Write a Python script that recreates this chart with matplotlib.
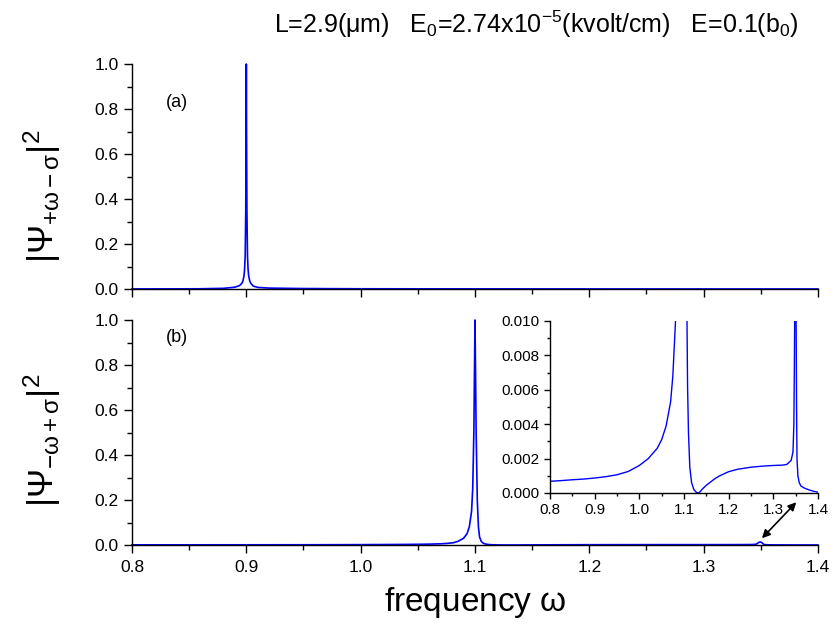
import matplotlib
matplotlib.use("Agg")
import matplotlib.pyplot as plt
from matplotlib.ticker import MultipleLocator

plt.rcParams['font.family'] = ['Liberation Sans', 'DejaVu Sans']
plt.rcParams['mathtext.fontset'] = 'custom'
plt.rcParams['mathtext.rm'] = 'Liberation Sans'
plt.rcParams['mathtext.it'] = 'Liberation Sans:italic'
plt.rcParams['mathtext.sf'] = 'Liberation Sans'

# ---- data ----
top_x = [0.80, 0.83, 0.86, 0.88, 0.89, 0.894, 0.896, 0.897, 0.898, 0.8985, 0.899,
         0.8995, 0.8998, 0.9, 0.9002, 0.9005, 0.901, 0.9015, 0.902, 0.903, 0.904,
         0.906, 0.91, 0.92, 0.95, 1.0, 1.1, 1.2, 1.3, 1.4]
top_y = [0.0003, 0.0005, 0.001, 0.003, 0.008, 0.015, 0.025, 0.035, 0.06, 0.09, 0.15,
         0.35, 0.7, 1.0, 0.7, 0.35, 0.15, 0.09, 0.06, 0.035, 0.025,
         0.013, 0.007, 0.004, 0.002, 0.001, 0.0005, 0.0003, 0.0002, 0.0001]

bot_x = [0.80, 0.825, 0.85, 0.875, 0.90, 0.925, 0.95, 0.975, 1.00, 1.02, 1.04, 1.05,
         1.06, 1.07, 1.075, 1.081,
         1.085, 1.09, 1.093, 1.095, 1.097, 1.098, 1.099, 1.0995, 1.1, 1.1005, 1.101,
         1.102, 1.103, 1.104, 1.1055, 1.1067, 1.108, 1.11, 1.113, 1.117, 1.122, 1.128,
         1.133, 1.137, 1.14, 1.15, 1.16, 1.17, 1.18, 1.19, 1.20, 1.22, 1.25, 1.28, 1.30,
         1.32, 1.33, 1.34, 1.344, 1.346, 1.347, 1.348, 1.349, 1.35, 1.351, 1.352, 1.353,
         1.355, 1.358, 1.362, 1.37, 1.38, 1.39, 1.40]
bot_y = [0.00068, 0.00072, 0.00077, 0.00081, 0.00087, 0.00095, 0.00106, 0.00125,
         0.0016, 0.0020, 0.0026, 0.0031, 0.0039,
         0.0053, 0.0068, 0.0100, 0.016, 0.03, 0.05, 0.08, 0.15, 0.25, 0.5, 0.75, 1.0,
         0.75, 0.5, 0.2, 0.08, 0.035, 0.016, 0.010, 0.0062, 0.0035, 0.0015, 0.0006,
         0.0002, 0.00003, 0.0, 0.0001, 0.0002, 0.00045, 0.00065, 0.00085, 0.001, 0.00112,
         0.00124, 0.00138, 0.0015, 0.00157, 0.0016, 0.00162, 0.00166, 0.0019, 0.0024,
         0.0040, 0.007, 0.011, 0.013, 0.013, 0.010, 0.005, 0.002, 0.0010, 0.0006,
         0.0004, 0.00028, 0.00018, 0.0001, 0.00005]

xticks = [0.8, 0.9, 1.0, 1.1, 1.2, 1.3, 1.4]
main_yticks = [0.0, 0.2, 0.4, 0.6, 0.8, 1.0]
inset_yticks = [0.000, 0.002, 0.004, 0.006, 0.008, 0.010]

title = r'L=2.9($\mathregular{\mu}$m)   E$_\mathregular{0}$=2.74x10$^\mathregular{-5}$(kvolt/cm)   E=0.1(b$_\mathregular{0}$)'

W, H = 833, 634
fig = plt.figure(figsize=(W / 100, H / 100), dpi=100)

def ax_px(l, r, t, b):
    return fig.add_axes([l / W, (H - b) / H, (r - l) / W, (b - t) / H])

blue = '#0000ff'

def style(ax, ylim, yticks, ymin, labelsize, xlabels=True):
    for s in ('top', 'right'):
        ax.spines[s].set_visible(False)
    for s in ('left', 'bottom'):
        ax.spines[s].set_linewidth(1.0)
    ax.set_xlim(0.8, 1.4)
    ax.set_ylim(*ylim)
    ax.set_xticks(xticks)
    ax.xaxis.set_minor_locator(MultipleLocator(0.05))
    ax.set_yticks(yticks)
    ax.yaxis.set_minor_locator(MultipleLocator(ymin))
    ax.tick_params(which='major', direction='out', length=6, width=1.0, labelsize=labelsize)
    ax.tick_params(which='minor', direction='out', length=3.5, width=1.0)
    if not xlabels:
        ax.tick_params(axis='x', labelbottom=False)

ax_a = ax_px(132, 818, 64, 289)
ax_a.plot(top_x, top_y, color=blue, lw=1.2, clip_on=False)
style(ax_a, (0, 1.0), main_yticks, 0.1, 12.5, xlabels=False)
ax_a.yaxis.set_major_formatter(plt.FormatStrFormatter('%.1f'))
ax_a.text(0.05, 0.83, '(a)', transform=ax_a.transAxes, fontsize=13, ha='left', va='center')

ax_b = ax_px(132, 818, 320, 545)
ax_b.plot(bot_x, bot_y, color=blue, lw=1.2, clip_on=False)
style(ax_b, (0, 1.0), main_yticks, 0.1, 12.5)
ax_b.yaxis.set_major_formatter(plt.FormatStrFormatter('%.1f'))
ax_b.xaxis.set_major_formatter(plt.FormatStrFormatter('%.1f'))
ax_b.text(0.05, 0.92, '(b)', transform=ax_b.transAxes, fontsize=13, ha='left', va='center')
ax_b.tick_params(axis='x', pad=5)

fig.text(42 / W, 1 - 196 / H, r'$\mathregular{|\Psi_{+\omega-\sigma}|^2}$', fontsize=25,
         rotation=90, ha='center', va='center')
fig.text(42 / W, 1 - 440 / H, r'$\mathregular{|\Psi_{-\omega+\sigma}|^2}$', fontsize=25,
         rotation=90, ha='center', va='center')
fig.text(475 / W, 1 - 603 / H, r'frequency $\mathregular{\omega}$', fontsize=24,
         ha='center', va='center')

ax_in = ax_px(550, 818, 321, 493)
ax_in.plot(bot_x, bot_y, color=blue, lw=1.0)
style(ax_in, (0, 0.010), inset_yticks, 0.001, 11)
ax_in.yaxis.set_major_formatter(plt.FormatStrFormatter('%.3f'))
ax_in.xaxis.set_major_formatter(plt.FormatStrFormatter('%.1f'))
ax_in.tick_params(which='major', length=4)
ax_in.tick_params(which='minor', length=2.5)

ax_b.annotate('', xy=(1.351, 0.03), xytext=(1.381, 0.19), xycoords='data', textcoords='data',
              arrowprops=dict(arrowstyle='<|-|>', color='black', lw=1.2, mutation_scale=12,
                              shrinkA=0, shrinkB=0), annotation_clip=False)

fig.text(536 / W, 1 - 24 / H, title, fontsize=18, ha='center', va='center')

fig.savefig('out.png', dpi=100)
